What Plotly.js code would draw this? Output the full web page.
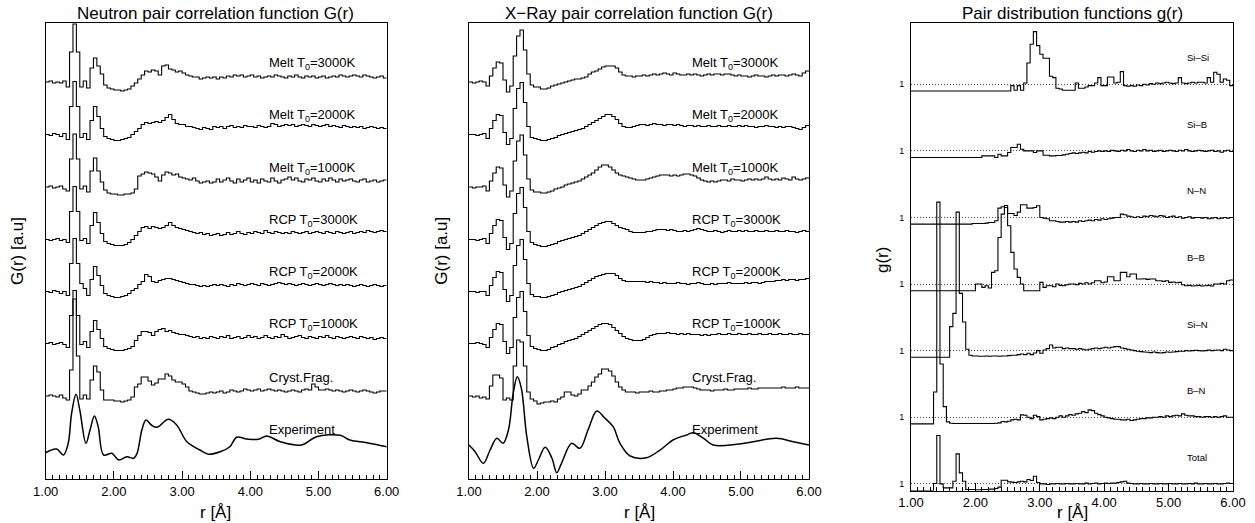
<!DOCTYPE html>
<html><head><meta charset="utf-8">
<script src="https://cdn.plot.ly/plotly-3.0.1.min.js"></script>
<style>html,body{margin:0;padding:0;background:#fff}#chart{width:1255px;height:523px}</style>
</head><body><div id="chart"></div>
<script>
// ---------- data ----------
const binStart = 1.0, binWidth = 0.05;   // histogram grid in r [Å]

const simLabels = ['Melt T<sub>0</sub>=3000K','Melt T<sub>0</sub>=2000K','Melt T<sub>0</sub>=1000K',
                   'RCP T<sub>0</sub>=3000K','RCP T<sub>0</sub>=2000K','RCP T<sub>0</sub>=1000K','Cryst.Frag.'];
const expLabel = 'Experiment';
const simOffsets = [397, 344.5, 292, 239.5, 187.5, 135.5, 83];   // vertical shift of each curve (a.u.)

// Neutron G(r), simulated (a.u., relative to own shift)
const nMelt3000 = [0,1,-1,0,-1,1,-5,30,58,30, -5,1,-6,14,24,16,8,-3,-6,-7, -8,-8,-9,-8,-7,-4,-1,3,7,11, 10,12,11,7,16,17,13,12,10,11,
  9,7,6,5,5,3,4,5,4,5, 3,5,4,6,5,7,6,7,5,6, 7,5,6,4,5,6,5,7,6,5, 4,6,5,7,5,4,6,5,6,4, 5,6,4,5,6,5,7,6,5,6, 7,6,5,7,6,5,4,5,6,4];
const nMelt2000 = [0,-1,1,0,-2,1,-5,28,53,28, -3,1,-5,14,28,18,6,-2,-4,-5, -6,-6,-5,-4,-3,0,3,6,10,12, 11,12,13,12,14,17,20,15,11,10,
  10,8,8,7,6,5,7,6,5,8, 7,8,6,8,9,7,8,7,9,8, 8,7,9,8,7,8,11,10,8,9, 10,9,10,8,9,10,9,8,10,9, 8,9,10,8,9,8,7,9,8,7, 8,7,8,6,7,8,7,6,7,6];
const nMelt1000 = [0,1,-1,0,1,-2,-4,28,53,28, -2,1,-5,16,29,16,5,-3,-6,-7, -7,-8,-8,-7,-7,-6,-2,11,13,15, 14,13,10,6,12,15,14,12,13,10,
  9,8,7,9,6,4,5,6,4,5, 8,5,7,9,6,4,8,5,7,9, 5,7,4,8,6,5,9,6,4,7, 8,10,7,9,6,5,8,7,9,6, 5,8,6,9,7,5,8,6,7,8, 6,5,7,8,5,6,7,5,6,7];
const nRcp3000 = [0,-1,0,1,-1,0,-3,28,53,28, -1,1,-4,14,27,17,6,-2,-4,-5, -6,-6,-6,-5,-3,0,4,8,12,13, 11,13,12,11,12,14,17,14,12,11,
  10,9,8,7,6,7,5,6,4,5, 6,4,5,7,5,6,8,6,5,7, 6,8,7,6,9,7,6,8,7,6, 7,6,8,7,6,7,8,6,7,8, 7,6,8,7,6,8,7,6,7,8, 6,7,8,7,9,8,7,8,9,8];
const nRcp2000 = [0,-1,1,0,-2,0,-4,28,53,28, 8,3,-4,12,25,16,6,-2,-4,-5, -6,-6,-5,-4,-2,1,3,7,10,17, 15,10,9,11,12,13,13,12,11,10,
  9,8,7,7,6,5,6,5,6,7, 6,7,6,5,7,6,8,7,6,7, 8,7,6,8,7,6,7,8,9,8, 7,8,7,6,7,8,7,6,7,8, 7,6,7,8,7,6,7,6,7,6, 5,6,7,6,5,6,7,6,5,6];
const nRcp1000 = [0,1,-1,0,1,-1,-4,28,53,28, -1,2,-4,12,23,14,5,-3,-5,-6, -7,-7,-7,-6,-5,-3,3,8,12,12, 11,8,12,14,15,12,13,11,10,9,
  9,8,7,6,7,5,6,5,7,6, 5,7,6,8,5,6,7,5,6,8, 6,7,5,6,8,6,5,7,6,9, 7,5,6,7,8,6,5,7,6,5, 7,6,8,6,5,7,6,5,6,7, 6,5,7,6,5,6,4,5,6,5];
const nCryst = [0,1,0,-1,1,-2,-4,26,97,40, -3,1,-3,16,30,24,6,-4,-4,-4, -5,-5,-6,-5,-4,-1,9,12,19,19, 15,11,13,17,17,22,20,16,14,14,
  12,9,5,4,3,2,2,3,4,3, 4,5,3,4,6,5,4,5,7,6, 5,6,7,5,6,7,6,5,6,5, 4,5,6,5,4,6,7,6,12,9, 6,6,7,6,5,6,5,4,5,6, 5,4,5,6,5,4,3,4,5,5];
// Neutron experiment (r, G absolute a.u.)
const nExpR = [1.00,1.06,1.16,1.26,1.33,1.38,1.445,1.50,1.59,1.65,1.714,1.77,1.85,1.97,2.07,2.19,2.29,2.34,2.41,2.47,2.55,2.63,2.80,2.92,3.07,3.26,3.39,3.56,3.70,3.80,3.95,4.12,4.24,4.44,4.75,4.97,5.32,5.46,5.71,6.00];
const nExpG = [26.3,28.3,30,24,35.7,65.7,84.7,69,35.7,49,63,52.3,24,25.7,19,22.3,20.7,25.7,49,59,54,51.7,59.7,54,37.3,29,24.7,27.3,32.3,41.7,40,39.7,43,37.3,34,42.3,43.7,39,36.3,32.3];

// X-ray G(r), simulated
const xMelt3000 = [0,-1,0,1,0,-4,6,14,20,19, 2,-10,-4,26,46,52,32,8,-3,-5, -5,-7,-7,-6,-4,-3,-2,-1,0,1, 2,3,3,4,5,8,10,11,13,15,
  16,16,16,14,10,7,6,6,5,6, 6,7,6,7,8,7,8,9,8,7, 9,8,7,7,8,7,8,7,6,7, 8,7,8,8,7,8,8,7,6,7, 6,6,5,6,7,6,6,5,6,7, 6,7,7,6,7,8,7,6,9,11];
const xMelt2000 = [0,0,-1,0,1,-4,6,14,20,19, 2,-10,-4,26,46,52,32,8,-3,-4, -5,-6,-6,-5,-4,-3,-1,0,1,2, 3,4,5,6,8,10,12,14,16,18,
  20,20,18,15,11,8,7,7,8,9, 10,10,9,10,11,10,10,9,10,10, 9,10,9,8,9,9,8,9,8,8, 9,8,8,9,8,8,9,8,8,9, 8,9,8,8,7,8,8,9,8,8, 7,8,7,8,8,7,6,5,7,9];
const xMelt1000 = [0,-1,0,0,1,-4,6,14,20,19, 2,-10,-4,26,46,52,32,8,-3,-5, -5,-6,-6,-5,-4,-2,-1,0,2,3, 4,5,6,8,10,12,14,17,20,22,
  22,20,17,14,12,11,10,9,8,7, 7,7,8,9,10,11,12,12,12,11, 12,11,12,13,13,12,11,9,7,6, 5,6,5,6,7,7,6,8,7,7, 6,7,8,7,8,7,8,10,8,7, 8,7,9,8,7,10,8,7,8,9];
const xRcp3000 = [0,0,-1,0,1,-4,6,14,20,19, 2,-10,-4,26,46,52,32,8,-3,-5, -6,-7,-7,-6,-5,-4,-2,-1,0,1, 2,3,4,6,8,10,12,14,16,17,
  18,18,16,14,12,11,10,8,7,7, 7,7,8,8,9,10,10,10,9,10, 9,8,8,9,8,9,10,11,10,9, 8,8,9,8,7,8,9,8,8,9, 8,9,8,8,9,8,8,9,8,8, 9,8,8,9,8,8,7,8,9,8];
const xRcp2000 = [0,0,-1,0,0,-4,6,14,20,19, 2,-10,-4,26,46,52,32,8,-3,-5, -5,-6,-6,-5,-4,-3,-1,0,1,2, 3,4,5,7,9,11,13,15,16,17,
  18,18,18,16,13,11,10,10,10,10, 10,10,9,10,9,9,8,9,8,8, 8,9,8,8,7,8,8,9,8,7, 7,8,7,8,8,8,9,8,8,8, 8,9,8,9,9,8,9,10,10,10, 11,11,12,11,12,12,11,12,12,13];
const xRcp1000 = [0,0,1,0,-1,-4,6,14,20,19, 2,-10,-4,26,46,52,32,8,-3,-5, -6,-7,-7,-6,-4,-3,-1,0,2,3, 4,5,7,9,11,13,15,17,19,20,
  20,19,16,13,10,7,5,4,3,3, 3,4,6,8,9,10,10,10,11,10, 10,9,10,9,10,9,9,9,8,9, 8,9,9,10,9,9,10,9,9,10, 9,9,10,9,9,10,9,9,10,9, 9,10,9,9,10,9,9,10,9,9];
const xCryst = [0,-1,0,-2,-1,-3,10,21,21,18, -4,-2,-4,30,56,54,30,4,-3,-5, -8,-7,-6,-6,-5,-6,-3,-1,4,4, 1,0,2,6,6,10,14,19,22,27,
  27,25,20,14,9,6,4,4,4,3, 4,4,4,5,4,4,5,5,6,6, 7,8,8,9,9,9,8,7,6,6, 6,5,6,6,6,7,6,6,7,7, 7,7,8,7,7,8,8,8,8,8, 8,8,9,8,8,8,9,8,8,8];
// X-ray experiment
const xExpR = [1.00,1.09,1.21,1.31,1.41,1.50,1.58,1.65,1.71,1.77,1.85,1.95,2.02,2.12,2.22,2.29,2.36,2.51,2.63,2.75,2.88,3.00,3.12,3.22,3.37,3.61,3.81,4.00,4.20,4.30,4.45,4.59,4.94,5.18,5.52,5.77,6.00];
const xExpG = [34,27.3,15.7,29,40.7,35.7,49,85.7,102.3,90.7,42.3,10.7,19,31.7,20.7,6.3,15.7,35.7,30.7,49,68,60.7,52.3,35.7,23,21.3,29,39,44,46.3,40.7,34,34.7,37.3,40.7,37.3,34];

// Partial pair distribution functions g(r)
const pairLabels = ['Si\u2013Si','Si\u2013B','N\u2013N','B\u2013B','Si\u2013N','B\u2013N','Total'];
const pairOffsets = [60, 50, 40, 30, 20, 10, 0];
const gSiSi = [0,0,0,0,0,0,0,0,0,0, 0,0,0,0,0,0,0,0,0,0, 0,0,0,0,0,0,0,0,0,0, 0,0.8,0.1,0.8,0.1,1.2,4.2,7.0,8.9,6.8,
  5.5,4.9,4.9,2.2,2.0,0.4,0.3,0.1,0.1,0.1, 0.1,1.2,0.4,0.4,0.6,0.8,0.8,1.2,2.0,0.8, 0.8,2.1,2.1,1.2,1.3,2.9,0.8,0.7,0.8,0.7,
  0.9,0.8,1.0,0.9,1.1,1.0,1.2,1.1,1.2,1.3, 1.2,1.1,1.2,2.0,1.2,1.1,1.2,1.3,1.2,1.3, 1.3,1.2,2.0,1.3,2.8,2.5,1.3,1.8,1.6,0.8];
const gSiB = [0,0,0,0,0,0,0,0,0,0, 0,0,0,0,0,0,0,0,0,0, 0,0,0.25,0.25,0.25,0.25,0,0.5,0.25,0.25, 0.75,1.5,1.5,2.0,1.25,1.0,1.0,1.0,0.75,1.0,
  1.0,0.35,0.35,0.25,0.25,0.3,0.3,0.4,0.5,0.6, 0.7,0.6,0.7,0.8,0.7,0.9,0.8,0.9,1.0,0.9, 1.0,0.9,1.1,1.0,0.9,1.1,1.0,1.2,1.0,0.9,
  1.1,1.0,1.2,1.0,1.1,0.9,1.0,1.1,0.9,1.0, 1.1,1.0,0.9,1.1,1.0,1.2,1.0,0.9,1.0,1.1, 1.0,0.9,1.0,1.1,0.9,1.0,0.8,1.0,1.1,0.9];
const gNN = [0,0,0,0,0,0,0,0,0,0, 0,0,0,0,0,0,0,0,0,0.1, 0.1,0.1,0.1,0.15,0.25,0.25,0.5,2.4,2.6,2.8, 1.6,1.6,1.3,1.8,2.9,2.9,2.4,2.4,2.5,2.75,
  1.0,0.9,0.8,0.5,0.5,0.4,0.3,0.3,0.4,0.3, 0.4,0.3,0.5,0.4,0.5,0.6,0.5,0.7,0.6,0.8, 0.7,0.8,0.9,1.0,1.0,1.5,1.4,1.2,1.1,1.0,
  1.1,1.0,1.2,1.1,1.3,1.2,1.1,1.3,1.2,1.0, 1.1,1.2,1.0,1.1,0.9,1.0,1.1,0.9,1.0,1.0, 0.9,1.0,0.8,0.9,1.0,0.8,0.9,1.0,0.9,1.0];
const gBB = [0,0,0,0,0,0,0,0,0,0, 0,0,0,0,0,0,0,0,0,0, 1.0,1.0,0.5,0.75,0.4,2.75,3.0,8.0,11.5,12.5, 9.75,5.75,3.25,2.0,1.0,0,0,0,0,0,
  1.25,0.5,0.75,0.75,0.6,1.0,0.8,0.75,0.9,1.0, 1.0,0.9,1.1,1.0,1.2,1.0,1.2,1.5,1.5,1.2, 1.3,2.1,2.1,1.5,1.5,2.75,2.75,2.1,2.5,2.5,
  1.75,1.75,1.8,1.7,1.75,1.75,1.5,1.5,1.4,1.5, 1.25,1.3,1.2,1.25,0.9,0.75,0.8,0.7,0.75,0.8, 0.7,0.75,0.8,0.7,1.0,1.0,1.1,1.0,1.5,1.6];
const gSiN = [0,0,0,0,0,0,0,0,0,0, 0,0,4.6,6.6,21.8,9.6,5.3,1.2,0.3,0.2, 0.2,0.15,0.15,0.2,0.15,0.2,0.2,0.15,0.2,0.2, 0.25,0.3,0.3,0.4,0.5,0.4,0.6,0.4,0.65,1.0,
  0.6,1.1,1.3,1.85,1.4,1.5,1.5,1.3,1.4,1.3, 1.3,1.2,1.3,1.2,1.1,1.2,1.3,1.4,1.3,1.4, 1.5,1.4,1.5,1.6,1.6,1.4,1.3,1.2,1.1,1.0,
  0.9,0.85,0.8,0.75,0.7,0.8,0.7,0.65,0.7,0.8, 0.75,0.8,0.85,0.9,0.9,1.0,0.95,1.0,1.05,1.0, 0.95,1.0,1.1,1.0,1.05,1.1,1.0,1.2,1.1,1.0];
const gBN = [0,0,0,0,0,0,0,4.8,33.3,9.0, 2.6,0.3,0.1,0.05,0.05,0.05,0.05,0.05,0.05,0.05, 0.05,0.05,0.05,0.05,0.05,0.05,0.1,0.15,0.35,0.3, 0.4,0.6,0.7,0.6,1.35,1.3,1.0,0.8,1.3,1.1,
  0.6,0.7,0.8,0.9,0.8,1.0,1.2,1.0,1.2,1.4, 1.3,1.5,1.6,1.85,1.7,2.1,2.0,1.6,1.4,1.2, 1.0,0.9,0.8,0.7,0.7,0.6,0.6,0.7,0.5,0.6,
  0.7,0.8,0.8,0.9,0.9,1.0,1.0,1.1,1.0,1.2, 1.1,1.2,1.3,1.2,1.5,1.3,1.2,1.2,1.1,1.1, 1.0,1.1,1.1,1.0,1.1,1.0,1.1,1.2,1.0,1.0];
const gTotal = [0,0,0,0,0,0,0,1.05,8.25,1.0, 0.4,0.4,0.4,1.4,5.5,2.65,1.4,0.15,0.15,0.15, 0.1,0.1,0.15,0.15,0.2,0.2,0.3,0.5,1.55,1.55, 1.3,1.25,1.2,1.3,1.4,1.3,1.65,1.5,2.15,1.2,
  1.0,1.0,0.9,1.0,1.0,1.05,1.0,1.0,1.05,1.0, 1.0,1.05,1.0,1.0,1.1,1.0,1.05,1.1,1.0,1.05, 1.1,1.05,1.1,1.1,1.2,1.3,1.4,1.1,1.05,1.0,
  1.0,1.05,1.0,1.0,1.05,1.0,1.0,1.05,1.0,1.0, 1.05,1.0,1.0,1.05,1.0,1.0,1.05,1.0,1.1,1.0, 1.0,1.05,1.0,1.0,1.05,1.0,1.0,1.05,1.1,1.05];

// ---------- build ----------
const FONT = '"Liberation Sans", Arial, Helvetica, sans-serif';
function stepTrace(vals, offset, xa, ya) {
  const x = [], y = [];
  vals.forEach((v, i) => { x.push(+(binStart + i * binWidth).toFixed(2)); y.push(v + offset); });
  x.push(+(binStart + vals.length * binWidth).toFixed(2)); y.push(vals[vals.length - 1] + offset);
  return {type:'scatter', mode:'lines', x, y, xaxis:xa, yaxis:ya, hoverinfo:'skip',
          line:{shape:'hv', color:'#000', width:1.1}};
}
function smoothTrace(r, g, xa, ya) {
  return {type:'scatter', mode:'lines', x:r, y:g, xaxis:xa, yaxis:ya, hoverinfo:'skip',
          line:{shape:'spline', smoothing:1, color:'#000', width:1.5}};
}
const neutronSim = [nMelt3000, nMelt2000, nMelt1000, nRcp3000, nRcp2000, nRcp1000, nCryst];
const xraySim = [xMelt3000, xMelt2000, xMelt1000, xRcp3000, xRcp2000, xRcp1000, xCryst];
const pairs = [gSiSi, gSiB, gNN, gBB, gSiN, gBN, gTotal];

const traces = [];
neutronSim.forEach((v, k) => traces.push(stepTrace(v, simOffsets[k], 'x', 'y')));
traces.push(smoothTrace(nExpR, nExpG, 'x', 'y'));
xraySim.forEach((v, k) => traces.push(stepTrace(v, simOffsets[k], 'x2', 'y2')));
traces.push(smoothTrace(xExpR, xExpG, 'x2', 'y2'));
pairs.forEach((v, k) => traces.push(stepTrace(v, pairOffsets[k], 'x3', 'y3')));

function xAx(domain, anchor) {
  return {domain, anchor, range:[1, 6], tick0:1, dtick:1, tickformat:'.2f',
    ticks:'inside', ticklen:8, tickwidth:1, tickcolor:'#000',
    minor:{dtick:0.1, ticks:'inside', ticklen:4, tickwidth:1, tickcolor:'#000', showgrid:false},
    showline:true, mirror:true, linecolor:'#000', linewidth:1, showgrid:false, zeroline:false,
    tickfont:{size:13, family:FONT, color:'#000'}, fixedrange:true};
}
function yAx(domain, anchor, range) {
  return {domain, anchor, range, showticklabels:false, ticks:'', showline:true, mirror:true,
    linecolor:'#000', linewidth:1, showgrid:false, zeroline:false, fixedrange:true};
}
const y3 = yAx([0.06214, 0.95602], 'x3', [0, 70.2]);
Object.assign(y3, {showticklabels:true, tickmode:'array', tickvals:pairOffsets.map(o => o + 1),
  ticktext:pairOffsets.map(() => '1'), showgrid:true, gridcolor:'#000', gridwidth:0.7, griddash:'1px,2px',
  tickfont:{size:9, family:FONT, color:'#000'}, ticklabelstandoff:4});

const ann = [];
function txt(text, x, y, xref, yref, size, opts) {
  ann.push(Object.assign({text, x, y, xref, yref, showarrow:false, xanchor:'center', yanchor:'middle',
    font:{size, family:FONT, color:'#000'}}, opts || {}));
}
// panel titles
txt('Neutron pair correlation function G(r)', 0.1721, 0.9751, 'paper', 'paper', 17);
txt('X\u2212Ray pair correlation function G(r)', 0.5092, 0.9751, 'paper', 'paper', 17);
txt('Pair distribution functions g(r)', 0.8542, 0.9751, 'paper', 'paper', 17);
// axis titles
txt('r [Å]', 0.1721, 0.021, 'paper', 'paper', 17);
txt('r [Å]', 0.5092, 0.021, 'paper', 'paper', 17);
txt('r [Å]', 0.8542, 0.021, 'paper', 'paper', 17);
txt('G(r) [a.u]', 0.01434, 0.5201, 'paper', 'paper', 17, {textangle:-90});
txt('G(r) [a.u]', 0.3520, 0.5201, 'paper', 'paper', 17, {textangle:-90});
txt('g(r)', 0.7036, 0.5029, 'paper', 'paper', 17, {textangle:-90});
// curve labels
simLabels.forEach((l, k) => {
  txt(l, 4.25, simOffsets[k] + 19, 'x', 'y', 13, {xanchor:'left'});
  txt(l, 4.25, simOffsets[k] + 19, 'x2', 'y2', 13, {xanchor:'left'});
});
txt(expLabel, 4.25, 50, 'x', 'y', 13, {xanchor:'left'});
txt(expLabel, 4.25, 50, 'x2', 'y2', 13, {xanchor:'left'});
pairLabels.forEach((l, k) => txt(l, 5.25, pairOffsets[k] + 5, 'x3', 'y3', 9.5, {xanchor:'left'}));

const layout = {
  width:1255, height:523, margin:{l:0, r:0, t:0, b:0}, showlegend:false,
  paper_bgcolor:'#fff', plot_bgcolor:'#fff', font:{family:FONT, color:'#000', size:13},
  xaxis: xAx([0.03641, 0.30813], 'y'),
  yaxis: yAx([0.08413, 0.95602], 'x', [0, 456]),
  xaxis2: xAx([0.37371, 0.64462], 'y2'),
  yaxis2: yAx([0.08413, 0.95602], 'x2', [0, 456]),
  xaxis3: xAx([0.72590, 0.98247], 'y3'),
  yaxis3: y3,
  annotations: ann
};
Plotly.newPlot('chart', traces, layout, {staticPlot:true, displayModeBar:false});
</script>
</body></html>
